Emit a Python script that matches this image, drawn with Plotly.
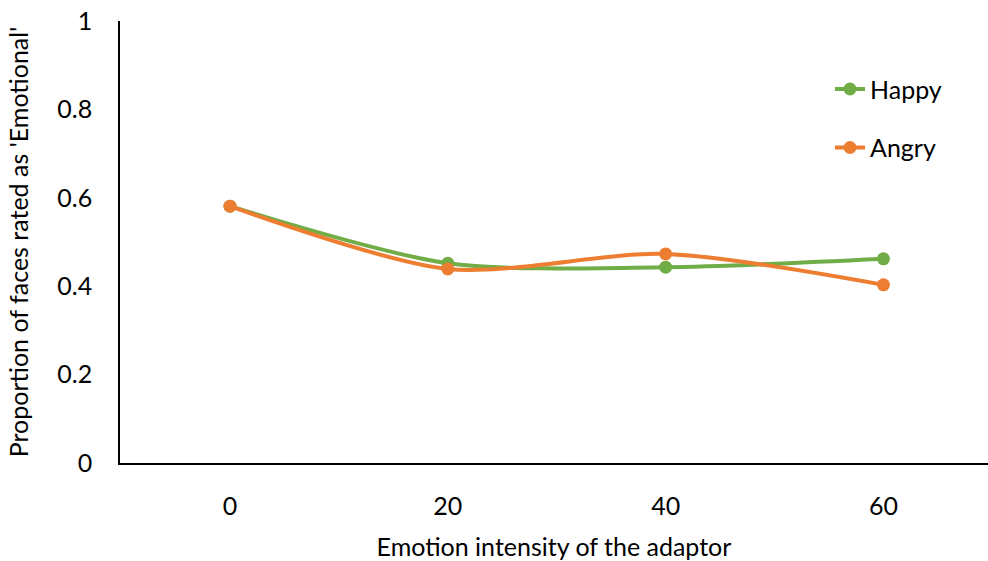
import plotly.graph_objects as go

intensity = [0, 20, 40, 60]
happy = [0.581, 0.452, 0.443, 0.462]
angry = [0.581, 0.439, 0.473, 0.403]

green = "#70AD47"
orange = "#ED7D31"
font_family = "Lato, Carlito, Calibri, sans-serif"

fig = go.Figure()
fig.add_trace(go.Scatter(
    x=intensity, y=happy, name="Happy", mode="lines+markers",
    line=dict(color=green, width=4, shape="spline", smoothing=0.8),
    marker=dict(color=green, size=13),
    legendgroup="a",
))
fig.add_trace(go.Scatter(
    x=intensity, y=angry, name="Angry", mode="lines+markers",
    line=dict(color=orange, width=4, shape="spline", smoothing=0.8),
    marker=dict(color=orange, size=13),
    legendgroup="b",
))

fig.update_layout(
    width=988, height=561,
    margin=dict(l=120, r=0, t=21, b=98),
    paper_bgcolor="white", plot_bgcolor="white",
    font=dict(family=font_family, size=25, color="#000000"),
    showlegend=True,
    legend=dict(
        x=0.818, y=0.78, xanchor="left", yanchor="middle",
        font=dict(size=25),
        tracegroupgap=23,
        traceorder="grouped",
        bgcolor="rgba(0,0,0,0)",
    ),
    xaxis=dict(
        range=[-10.1, 69.6],
        tickmode="array", tickvals=intensity, ticktext=[str(v) for v in intensity],
        showgrid=False, zeroline=False,
        showline=True, linecolor="#000000", linewidth=1.5,
        ticks="", ticklabelstandoff=20,
        title=dict(text="Emotion intensity of the adaptor", standoff=22,
                   font=dict(size=25)),
    ),
    yaxis=dict(
        range=[0, 1],
        tickvals=[0, 0.2, 0.4, 0.6, 0.8, 1],
        ticktext=["0", "0.2", "0.4", "0.6", "0.8", "1"],
        showgrid=False, zeroline=False,
        showline=True, linecolor="#000000", linewidth=1.5,
        ticks="", ticklabelstandoff=21,
        title=dict(text="Proportion of faces rated as 'Emotional'", standoff=22,
                   font=dict(size=25)),
    ),
)

fig.write_html("out.html")
